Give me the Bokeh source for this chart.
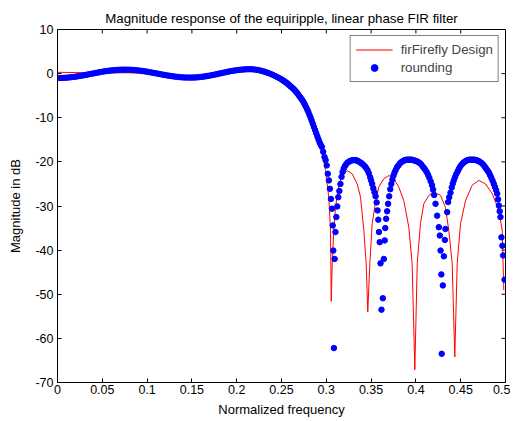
from bokeh.plotting import figure
from bokeh.models import FixedTicker, Range1d, Legend, LegendItem
from bokeh.embed import file_html
from bokeh.resources import INLINE

# ---------------- data ----------------
blue_f = [
    0.0, 0.0025, 0.005, 0.0075, 0.01, 0.0125, 0.015, 0.0175, 0.02, 0.0225,
    0.025, 0.0275, 0.03, 0.0325, 0.035, 0.0375, 0.04, 0.0425, 0.045, 0.0475,
    0.05, 0.0525, 0.055, 0.0575, 0.06, 0.0625, 0.065, 0.0675, 0.07, 0.0725,
    0.075, 0.0775, 0.08, 0.0825, 0.085, 0.0875, 0.09, 0.0925, 0.095, 0.0975,
    0.1, 0.1025, 0.105, 0.1075, 0.11, 0.1125, 0.115, 0.1175, 0.12, 0.1225,
    0.125, 0.1275, 0.13, 0.1325, 0.135, 0.1375, 0.14, 0.1425, 0.145, 0.1475,
    0.15, 0.1525, 0.155, 0.1575, 0.16, 0.1625, 0.165, 0.1675, 0.17, 0.1725,
    0.175, 0.1775, 0.18, 0.1825, 0.185, 0.1875, 0.19, 0.1925, 0.195, 0.1975,
    0.2, 0.2025, 0.205, 0.2075, 0.21, 0.2125, 0.215, 0.2175, 0.22, 0.2225,
    0.225, 0.2275, 0.23, 0.2325, 0.235, 0.2375, 0.24, 0.2425, 0.245, 0.2475,
    0.25, 0.25125, 0.2525, 0.25375, 0.255, 0.25625, 0.2575, 0.25875,
    0.26, 0.26125, 0.2625, 0.26375, 0.265, 0.26625, 0.2675, 0.26875,
    0.27, 0.27125, 0.2725, 0.27375, 0.275, 0.27625, 0.2775, 0.27875,
    0.28, 0.28125, 0.2825, 0.28375, 0.285, 0.28625, 0.2875, 0.28875,
    0.29, 0.29125, 0.2925, 0.2937,
    0.295, 0.2965, 0.298, 0.2992, 0.3005, 0.3017, 0.3029, 0.304, 0.3052,
    0.3064, 0.3072, 0.3078, 0.3085, 0.3093, 0.3102, 0.3112, 0.3122, 0.3134, 0.3146,
    0.3158, 0.317, 0.3182, 0.3194, 0.3206, 0.322, 0.3235, 0.325, 0.3265, 0.328,
    0.3295, 0.331, 0.3325, 0.334, 0.3355, 0.337, 0.3385, 0.34, 0.3415, 0.343,
    0.3445, 0.346, 0.3475, 0.349, 0.35, 0.3512, 0.3525, 0.3538, 0.355, 0.3562,
    0.3572, 0.358, 0.3588, 0.3596, 0.3605, 0.3616, 0.3631, 0.3642, 0.3652, 0.3658,
    0.3668, 0.3679, 0.369, 0.3702, 0.3714, 0.3726, 0.3738, 0.375, 0.3762, 0.3775,
    0.379, 0.3805, 0.382, 0.3835, 0.385, 0.3865, 0.388, 0.3895, 0.391, 0.3925,
    0.394, 0.3955, 0.397, 0.3985, 0.4, 0.4015, 0.403, 0.4045, 0.406, 0.4075,
    0.409, 0.4105, 0.412, 0.4135, 0.415, 0.4165, 0.418, 0.4192, 0.4204, 0.4219,
    0.4237, 0.4256, 0.4267, 0.4275, 0.4284, 0.4288, 0.4301, 0.4312, 0.4323, 0.433,
    0.4349, 0.436, 0.4372, 0.4386, 0.44, 0.4412, 0.4423, 0.4436, 0.445, 0.4465,
    0.4479, 0.4493, 0.4507, 0.4521, 0.4535, 0.455, 0.4565, 0.458, 0.4595, 0.461,
    0.4625, 0.464, 0.4655, 0.467, 0.4685, 0.47, 0.4715, 0.473, 0.4745, 0.4759,
    0.4773, 0.4787, 0.48, 0.4814, 0.4828, 0.4842, 0.4856, 0.487, 0.4882, 0.4895,
    0.4907, 0.4917, 0.4926, 0.4935, 0.4944, 0.4955, 0.4965, 0.4974, 0.4989,
]
blue_db = [
    -1.00, -0.99, -0.98, -0.95, -0.92, -0.87, -0.82, -0.76, -0.69, -0.61,
    -0.53, -0.44, -0.34, -0.25, -0.15, -0.05, 0.05, 0.15, 0.24, 0.34,
    0.43, 0.51, 0.59, 0.66, 0.72, 0.77, 0.82, 0.85, 0.88, 0.89,
    0.90, 0.89, 0.88, 0.85, 0.82, 0.77, 0.72, 0.66, 0.59, 0.51,
    0.43, 0.34, 0.25, 0.15, 0.06, -0.04, -0.13, -0.23, -0.32, -0.41,
    -0.49, -0.57, -0.64, -0.71, -0.76, -0.81, -0.85, -0.88, -0.89, -0.90,
    -0.90, -0.88, -0.85, -0.81, -0.75, -0.69, -0.61, -0.53, -0.44, -0.34,
    -0.24, -0.13, -0.02, 0.09, 0.20, 0.31, 0.42, 0.52, 0.61, 0.70,
    0.77, 0.84, 0.90, 0.94, 0.97, 0.99, 1.00, 0.98, 0.93, 0.85,
    0.76, 0.64, 0.50, 0.34, 0.16, -0.04, -0.26, -0.50, -0.76, -1.02,
    -1.30, -1.47, -1.65, -1.82, -2.00, -2.20, -2.40, -2.62,
    -2.85, -3.07, -3.30, -3.55, -3.80, -4.10, -4.40, -4.75,
    -5.10, -5.45, -5.80, -6.20, -6.60, -7.10, -7.60, -8.15,
    -8.70, -9.35, -10.00, -10.70, -11.40, -12.10, -12.80, -13.50,
    -14.20, -14.90, -15.60, -16.1,
    -16.6, -17.7, -18.9, -19.6, -20.8, -22.7, -24.2, -26.1, -28.4,
    -30.6, -34.4, -40.1, -62.2, -42.0, -35.9, -32.5, -30.1, -28.0, -26.6,
    -25.0, -23.4, -22.3, -21.5, -21.0, -20.6, -20.2, -20.0, -19.8, -19.7,
    -19.6, -19.6, -19.6, -19.7, -19.8, -20.0, -20.2, -20.4, -20.7, -21.0,
    -21.4, -21.9, -22.6, -23.5, -24.2, -25.0, -26.0, -26.9, -27.8, -29.2,
    -31.0, -33.1, -35.9, -38.2, -43.0, -53.5, -50.9, -42.0, -37.8, -35.0,
    -32.9, -31.2, -29.5, -27.8, -26.2, -25.0, -24.0, -23.1, -22.4, -21.8,
    -21.2, -20.8, -20.4, -20.1, -19.9, -19.7, -19.6, -19.5, -19.5, -19.5,
    -19.5, -19.5, -19.6, -19.7, -19.8, -19.9, -20.1, -20.3, -20.6, -21.0,
    -21.4, -21.8, -22.3, -22.9, -23.6, -24.4, -25.3, -26.3, -27.5, -29.5,
    -32.2, -34.8, -36.7, -40.1, -45.5, -63.5, -48.0, -41.4, -37.7, -35.2,
    -31.4, -29.1, -28.0, -27.0, -25.8, -24.9, -24.2, -23.5, -22.8, -22.2,
    -21.6, -21.1, -20.7, -20.4, -20.1, -19.9, -19.7, -19.6, -19.5, -19.5,
    -19.5, -19.5, -19.5, -19.6, -19.7, -19.8, -20.0, -20.2, -20.5, -20.8,
    -21.2, -21.6, -22.0, -22.4, -23.0, -23.6, -24.3, -25.0, -25.7, -26.4,
    -27.2, -28.5, -29.9, -31.2, -32.5, -37.1, -39.0, -41.2, -46.7,
]

red_f = [
    0.0, 0.02, 0.04, 0.06, 0.08, 0.1, 0.12, 0.14, 0.16, 0.18,
    0.2, 0.215, 0.23, 0.24, 0.25, 0.26, 0.27, 0.28, 0.29, 0.2954,
    0.2991, 0.3028, 0.3047, 0.3055, 0.3066, 0.3084, 0.3103, 0.314, 0.3177, 0.3233,
    0.3289, 0.3345, 0.3382, 0.3419, 0.3445, 0.3463, 0.3486, 0.3512, 0.3549, 0.3586,
    0.3642, 0.3698, 0.3753, 0.3809, 0.3865, 0.3921, 0.3958, 0.3988, 0.4015, 0.4051,
    0.4088, 0.4144, 0.42, 0.4275, 0.433, 0.4367, 0.4405, 0.4434, 0.4461, 0.4498,
    0.4554, 0.4628, 0.4702, 0.4777, 0.4852, 0.4925, 0.4963, 0.4981,
]
red_db = [
    0.3, 0.25, 0.1, 0.15, 0.2, 0.05, -0.25, -0.45, -0.35, -0.05,
    0.35, 0.6, 0.35, -0.3, -1.2, -2.8, -5.0, -8.8, -14.5, -17.4,
    -22.0, -28.0, -35.5, -51.6, -43.1, -35.5, -30.3, -25.3, -23.1, -22.0,
    -22.7, -25.0, -28.0, -35.5, -43.0, -54.0, -43.0, -34.0, -29.1, -25.7,
    -23.8, -23.1, -23.8, -25.7, -28.8, -34.8, -43.0, -67.1, -43.0, -34.0,
    -29.5, -27.6, -26.9, -27.6, -30.3, -35.5, -43.0, -64.2, -43.0, -34.0,
    -28.8, -25.3, -24.2, -25.0, -27.2, -31.0, -35.5, -49.1,
]

x_ticks = [0, 0.05, 0.1, 0.15, 0.2, 0.25, 0.3, 0.35, 0.4, 0.45, 0.5]
x_tick_labels = ["0", "0.05", "0.1", "0.15", "0.2", "0.25", "0.3", "0.35", "0.4", "0.45", "0.5"]
y_ticks = [-70, -60, -50, -40, -30, -20, -10, 0, 10]
y_tick_labels = ["-70", "-60", "-50", "-40", "-30", "-20", "-10", "0", "10"]

title_text = "Magnitude response of the equiripple, linear phase FIR filter"
x_label = "Normalized frequency"
y_label = "Magnitude in dB"
series_names = ["firFirefly Design", "rounding"]

# ---------------- figure ----------------
FONT = "Liberation Sans"
X0, X1, Y0, Y1 = 0, 0.5, -70, 10
FW, FH = 448, 353
TICK_PX = 4

p = figure(
    frame_width=FW, frame_height=FH,
    x_range=Range1d(X0, X1), y_range=Range1d(Y0, Y1),
    output_backend="svg", toolbar_location=None,
    min_border_left=57, min_border_top=29, min_border_right=5, min_border_bottom=4,
    background_fill_color="white", border_fill_color="white",
)
p.title.text = title_text
p.title.align = "center"
p.title.text_font = FONT
p.title.text_font_size = "13.3px"
p.title.text_font_style = "normal"
p.title.text_color = "black"
p.title.standoff = 8

p.grid.visible = False
p.outline_line_color = "black"
p.outline_line_width = 1

for ax in (p.xaxis[0], p.yaxis[0]):
    ax.major_tick_in = TICK_PX
    ax.major_tick_out = 0
    ax.minor_tick_line_color = None
    ax.axis_line_color = "black"
    ax.major_tick_line_color = "black"
    ax.major_label_text_font = FONT
    ax.major_label_text_font_size = "12.5px"
    ax.major_label_text_color = "black"
    ax.axis_label_text_font = FONT
    ax.axis_label_text_font_size = "13px"
    ax.axis_label_text_font_style = "normal"
    ax.axis_label_text_color = "black"

p.xaxis[0].ticker = FixedTicker(ticks=x_ticks)
p.xaxis[0].major_label_overrides = dict(zip(x_ticks, x_tick_labels))
p.xaxis[0].axis_label = x_label
p.xaxis[0].major_label_standoff = 2
p.xaxis[0].axis_label_standoff = 5

p.yaxis[0].ticker = FixedTicker(ticks=y_ticks)
p.yaxis[0].major_label_overrides = dict(zip(y_ticks, y_tick_labels))
p.yaxis[0].axis_label = y_label
p.yaxis[0].major_label_standoff = 4
p.yaxis[0].axis_label_standoff = 9

# inward tick marks on the top and right edges of the box (MATLAB style)
dy = TICK_PX * (Y1 - Y0) / FH
dx = TICK_PX * (X1 - X0) / FW
p.segment(x0=x_ticks, y0=[Y1] * len(x_ticks), x1=x_ticks, y1=[Y1 - dy] * len(x_ticks),
          line_color="black", line_width=1)
p.segment(x0=[X1] * len(y_ticks), y0=y_ticks, x1=[X1 - dx] * len(y_ticks), y1=y_ticks,
          line_color="black", line_width=1)

r_red = p.line(red_f, red_db, line_color="#ff0000", line_width=1)
r_blue = p.scatter(blue_f, blue_db, size=5.5, fill_color="blue", line_color="blue", marker="circle")

legend = Legend(items=[LegendItem(label=series_names[0], renderers=[r_red]),
                       LegendItem(label=series_names[1], renderers=[r_blue])],
                location="top_right")
legend.border_line_color = "black"
legend.border_line_width = 1
legend.background_fill_color = "white"
legend.background_fill_alpha = 1
legend.label_text_font = FONT
legend.label_text_font_size = "13.3px"
legend.glyph_width = 37
legend.glyph_height = 17
legend.label_height = 17
legend.label_standoff = 8
legend.padding = 5
legend.spacing = 1
legend.margin = 6
p.add_layout(legend, "center")

open("out.html", "w").write(file_html(p, INLINE))
